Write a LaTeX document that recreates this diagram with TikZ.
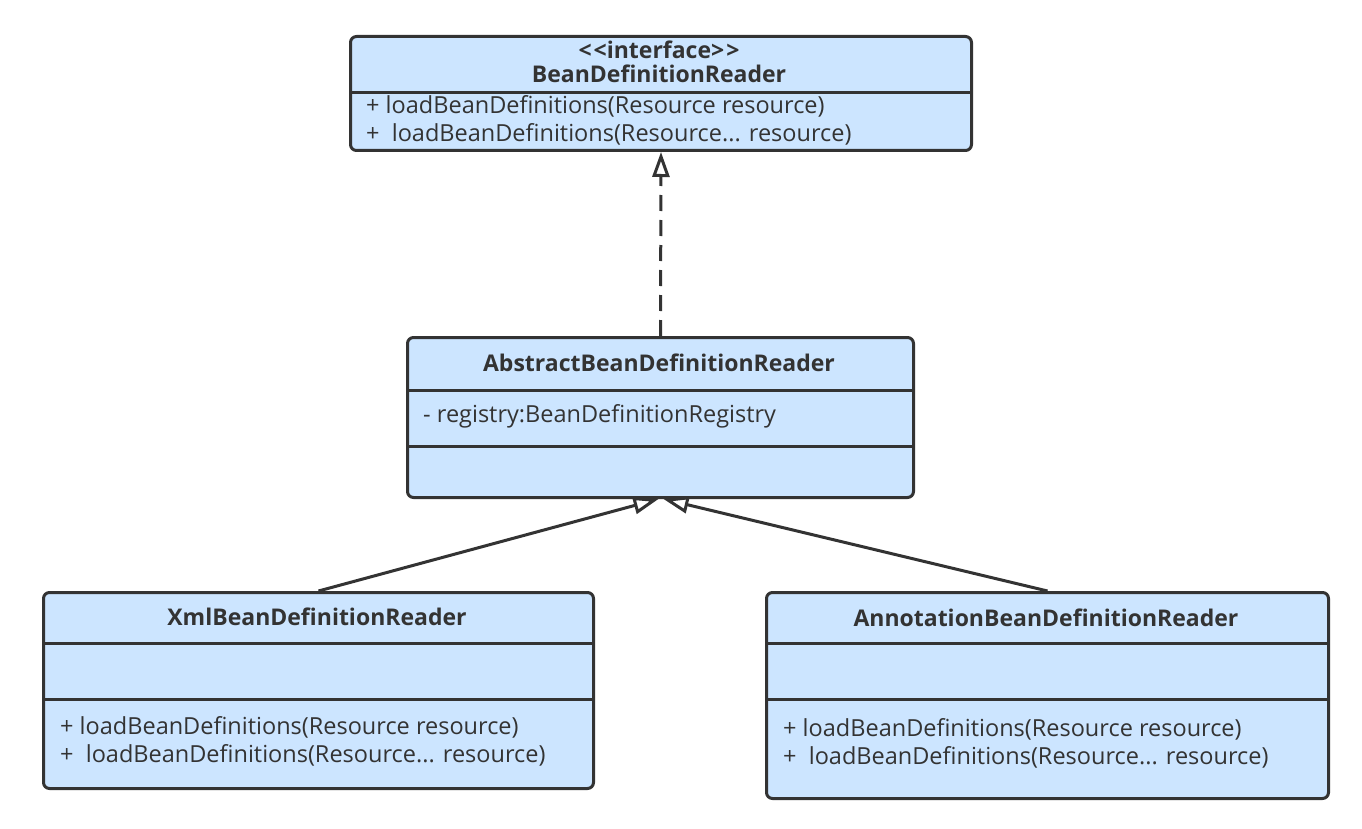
\documentclass[tikz,border=0pt]{standalone}
\usepackage{fontspec}
\setmainfont{Open Sans}
\usetikzlibrary{arrows.meta,calc}
\definecolor{boxc}{HTML}{CCE5FF}
\definecolor{linec}{HTML}{333333}
\definecolor{txtc}{HTML}{333333}
\tikzset{
  cls/.style={draw=linec, fill=boxc, line width=3pt, rounded corners=6pt, rectangle, inner sep=0pt, anchor=north west},
  ttl/.style={font=\bfseries\fontsize{23}{27}\selectfont, text=txtc, inner sep=0pt},
  mem/.style={font=\fontsize{23.5}{27}\selectfont, text=txtc, anchor=west, inner sep=0pt},
  sepline/.style={draw=linec, line width=3pt},
  inherit/.style={draw=linec, line width=3pt, -{Triangle[open, length=25pt, width=17pt, line width=3pt]}},
  realize/.style={inherit, dash pattern=on 16pt off 9pt},
}
\begin{document}
\begin{tikzpicture}[x=1pt, y=-1pt]
\useasboundingbox[fill=white] (0,0) rectangle (1362,829);

% interface
\node[cls, minimum width=621pt, minimum height=114pt] (bdr) at (349,35) {};
\draw[sepline] (bdr.west |- 0,93) -- (bdr.east |- 0,93);
\node[ttl] (bdrs) at (659,50) {<\kern2pt<interface>\kern2pt>};
\node[ttl] (bdrt) at (659,74) {BeanDefinitionReader};
\node[mem] (bdrm1) at (366,106) {+ loadBeanDefinitions(Resource resource)};
\node[mem] (bdrm2) at (366,134) {+\ \ loadBeanDefinitions(Resource... resource)};

% abstract
\node[cls, minimum width=506pt, minimum height=160pt] (abs) at (406,336) {};
\draw[sepline] (abs.west |- 0,390) -- (abs.east |- 0,390);
\draw[sepline] (abs.west |- 0,446) -- (abs.east |- 0,446);
\node[ttl] (abst) at (659,363) {AbstractBeanDefinitionReader};
\node[mem] (absa) at (423,416) {- registry:BeanDefinitionRegistry};

% xml
\node[cls, minimum width=550pt, minimum height=196pt] (xml) at (42,591) {};
\draw[sepline] (xml.west |- 0,643) -- (xml.east |- 0,643);
\draw[sepline] (xml.west |- 0,699) -- (xml.east |- 0,699);
\node[ttl] (xmlt) at (317,617) {XmlBeanDefinitionReader};
\node[mem] (xmlm1) at (60,727) {+ loadBeanDefinitions(Resource resource)};
\node[mem] (xmlm2) at (60,755) {+\ \ loadBeanDefinitions(Resource... resource)};

% annotation
\node[cls, minimum width=562pt, minimum height=206pt] (ann) at (765,591) {};
\draw[sepline] (ann.west |- 0,643) -- (ann.east |- 0,643);
\draw[sepline] (ann.west |- 0,699) -- (ann.east |- 0,699);
\node[ttl] (annt) at (1046,618) {AnnotationBeanDefinitionReader};
\node[mem] (annm1) at (783,729) {+ loadBeanDefinitions(Resource resource)};
\node[mem] (annm2) at (783,757) {+\ \ loadBeanDefinitions(Resource... resource)};

% connectors
\coordinate (tipR) at ($(abs.south)+(3,0)$);
\coordinate (tipL) at ($(abs.south)+(-2,0)$);
\draw[realize] (abs.north) -- (bdr.south);
\draw[inherit] (xml.north) -- (tipL);
\draw[inherit] (ann.north) -- (tipR);
\end{tikzpicture}
\end{document}
